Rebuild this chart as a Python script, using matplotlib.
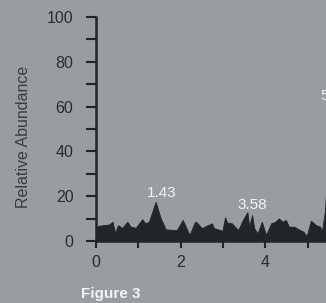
import matplotlib
matplotlib.use("Agg")
import matplotlib.pyplot as plt
import numpy as np

plt.rcParams['font.family'] = ['Liberation Sans', 'DejaVu Sans']

# retention time (min) and relative abundance
rt = [0.0, 0.02, 0.07, 0.31, 0.39, 0.45, 0.52, 0.62, 0.74, 0.82, 0.94,
      1.09, 1.17, 1.25, 1.41, 1.53, 1.65, 1.84, 1.91, 2.05, 2.14, 2.21,
      2.34, 2.39, 2.50, 2.60, 2.74, 2.79, 2.99, 3.05, 3.10, 3.21, 3.36,
      3.48, 3.58, 3.62, 3.69, 3.74, 3.82, 3.92, 4.02, 4.14, 4.24, 4.32,
      4.41, 4.49, 4.56, 4.69, 4.79, 4.90, 4.98, 5.08, 5.20, 5.30, 5.34,
      5.41, 5.52, 5.61, 5.70, 5.80, 5.95, 6.10, 6.30, 6.50]
abundance = [6.4, 6.4, 6.8, 7.4, 8.6, 3.7, 7.1, 5.9, 8.6, 6.4, 5.9,
             9.7, 7.9, 8.6, 17.5, 10.1, 5.2, 4.9, 4.9, 9.4, 5.7, 2.7,
             8.6, 8.2, 5.7, 6.7, 7.9, 5.7, 4.6, 10.6, 8.2, 7.9, 4.9,
             9.7, 12.9, 6.4, 11.6, 5.7, 3.4, 8.6, 2.7, 7.9, 8.6, 10.1,
             8.6, 9.4, 6.4, 6.4, 5.2, 4.2, 2.2, 9.1, 7.1, 6.4, 4.2,
             13.1, 45.0, 61.0, 30.0, 8.0, 6.0, 7.5, 5.0, 6.5]

peak_labels = ['1.43', '3.58', '5.61']
peak_label_x = [1.56, 3.69, 5.66]
peak_label_y = [19.8, 14.2, 63.0]

bg = '#999da0'
dark = '#222528'

fig = plt.figure(figsize=(3.26, 3.03), dpi=100, facecolor=bg)
# axes runs past the right edge of the figure, as in the cropped original
ax = fig.add_axes([96 / 326, 62 / 303, 8 * 42.3 / 326, 224 / 303])
ax.set_facecolor(bg)

ax.fill_between(rt, abundance, 0, color=dark, linewidth=0.6, edgecolor=dark)

for lab, lx, ly in zip(peak_labels, peak_label_x, peak_label_y):
    ax.text(lx, ly, lab, color='#f4f4f4', fontsize=11, ha='center', va='baseline')

ax.set_xlim(0, 8)
ax.set_ylim(0, 100)
ax.set_xticks([0, 2, 4])
ax.set_xticks([1, 3, 5], minor=True)
ax.set_yticks([0, 20, 40, 60, 80, 100])
ax.set_yticks([10, 30, 50, 70, 90], minor=True)

for s in ['top', 'right']:
    ax.spines[s].set_visible(False)
for s in ['left', 'bottom']:
    ax.spines[s].set_color(dark)
    ax.spines[s].set_linewidth(1.8)

ax.tick_params(axis='y', which='both', length=7.2, width=1.5, color=dark,
               pad=9, labelsize=11.5, labelcolor='#2a2c2e')
ax.tick_params(axis='x', which='both', length=5.3, width=1.5, color=dark,
               pad=5, labelsize=11.5, labelcolor='#2a2c2e')

fig.text(24 / 326, 1 - 136.5 / 303, 'Relative Abundance', rotation=90,
         ha='center', va='center', fontsize=11.5, color='#3a3d40')
fig.text(110.5 / 326, 1 - 298 / 303, 'Figure 3', ha='center', va='baseline',
         fontsize=11, fontweight='bold', color='#f4f4f4')

fig.savefig('out.png', dpi=100, facecolor=bg)
